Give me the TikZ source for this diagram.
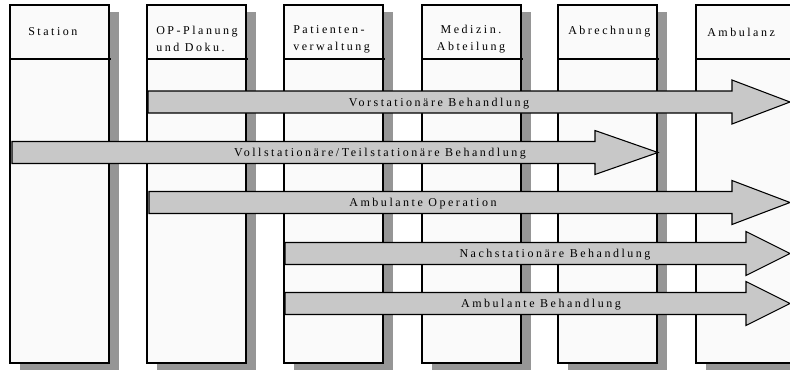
\documentclass[tikz,border=0pt]{standalone}
\usepackage{fontspec}
\setmainfont{Liberation Serif}[LetterSpace=21]
\definecolor{lanefill}{RGB}{250,250,250}
\definecolor{shadowgray}{RGB}{150,150,150}
\definecolor{arrowgray}{RGB}{200,200,200}

% Block arrow: name, start x, head base x, tip x, mid y, label x, label text
\newcommand{\flowarrow}[7]{%
  \draw[blockarrow] (#2,#5-11) -- (#3,#5-11) -- (#3,#5-22) -- (#4,#5)
    -- (#3,#5+22) -- (#3,#5+11) -- (#2,#5+11) -- cycle;
  \node[lbl] (#1) at (#6,#5+1.5) {#7};}

\begin{document}
\begin{tikzpicture}[x=0.75pt,y=-0.75pt,
  lane/.style={draw=black,line width=1.1pt,fill=lanefill,anchor=north west,
    minimum width=74.25pt,minimum height=268.5pt,inner sep=0pt,outer sep=0pt},
  laneshadow/.style={fill=shadowgray,anchor=north west,
    minimum width=74.25pt,minimum height=268.5pt,inner sep=0pt,outer sep=0pt},
  blockarrow/.style={draw=black,line width=0.8pt,fill=arrowgray,line join=miter},
  hdr/.style={font=\fontsize{9}{12.5}\selectfont,inner sep=0pt},
  lbl/.style={font=\fontsize{9}{10}\selectfont,inner sep=0pt}]

\useasboundingbox[fill=white] (0,0) rectangle (790,369);

% swimlanes with drop shadows and header rule
\foreach \x/\n in {10/station,147/op,284/patient,422/medizin,558/abrechnung,696/ambulanz}{
  \node[laneshadow] (\n-shadow) at (\x+10,12) {};
  \node[lane] (\n) at (\x,5) {};
  \draw[line width=1.1pt] (\x,59) -- (\x+101,59);
}

% lane headers
\node[hdr,anchor=west] (h-station) at (28,32) {Station};
\node[hdr,anchor=west,align=left] (h-op) at (156,39) {OP-Planung\\und Doku.};
\node[hdr,anchor=west,align=left] (h-patient) at (293,39) {Patienten-\\verwaltung};
\node[hdr,align=center] (h-medizin) at (471,39) {Medizin.\\Abteilung};
\node[hdr,anchor=west] (h-abrechnung) at (568,32) {Abrechnung};
\node[hdr,anchor=west] (h-ambulanz) at (707,32) {Ambulanz};

% treatment flows
\flowarrow{vor}{148}{732}{790}{102}{439}{Vorstationäre Behandlung}
\flowarrow{voll}{12}{595}{658}{152.5}{380}{Vollstationäre/Teilstationäre Behandlung}
\flowarrow{ambop}{149}{732}{790}{202.5}{423}{Ambulante Operation}
\flowarrow{nach}{285}{746}{790}{253.5}{555}{Nachstationäre Behandlung}
\flowarrow{ambbeh}{285}{746}{790}{303.5}{541}{Ambulante Behandlung}
\end{tikzpicture}
\end{document}
